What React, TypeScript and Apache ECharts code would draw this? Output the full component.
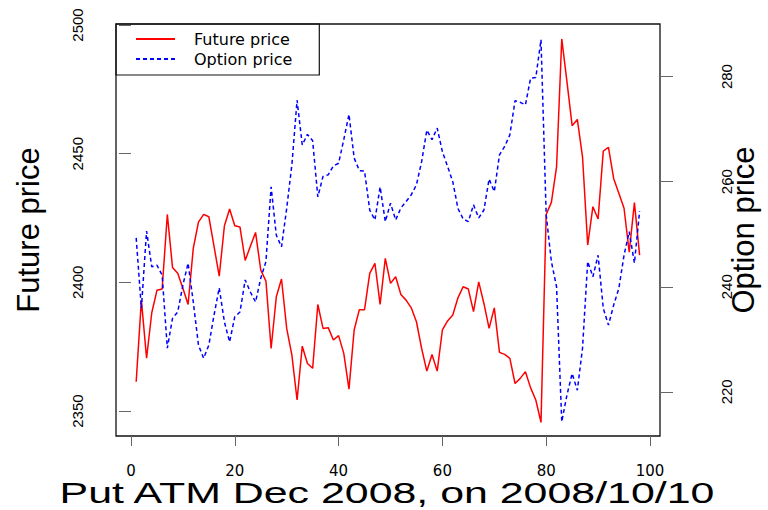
import React, { useEffect, useRef } from 'react';
import * as echarts from 'echarts';

const futurePrice = [
  2361.4, 2393.1, 2370.5, 2388.2, 2396.9, 2397.4, 2426.4, 2405.8, 2403.5, 2397.7,
  2391.4, 2413.2, 2423.4, 2426.4, 2425.5, 2414.0, 2402.4, 2422.0, 2428.5, 2422.0,
  2421.5, 2408.5, 2414.0, 2419.4, 2404.8, 2400.5, 2374.3, 2394.4, 2401.3, 2382.1,
  2371.7, 2354.3, 2375.2, 2368.5, 2366.6, 2391.4, 2382.1, 2382.4, 2377.6, 2379.3,
  2372.4, 2358.5, 2381.5, 2389.4, 2389.4, 2403.5, 2407.4, 2391.4, 2409.3, 2399.6,
  2402.2, 2395.3, 2393.1, 2390.1, 2384.7, 2374.3, 2365.5, 2372.0, 2365.5, 2381.5,
  2385.0, 2387.3, 2394.0, 2398.3, 2397.4, 2388.6, 2400.2, 2391.8, 2382.1, 2390.1,
  2372.8, 2372.0, 2370.5, 2360.7, 2362.7, 2365.3, 2359.0, 2354.3, 2345.6, 2426.4,
  2431.1, 2444.9, 2494.6, 2478.0, 2460.9, 2463.3, 2448.8, 2414.5, 2429.4, 2424.6,
  2451.0, 2452.5, 2440.4, 2434.6, 2428.8, 2411.7, 2431.0, 2410.6,
];

const optionPrice = [
  249.3, 235.9, 250.6, 243.8, 244.1, 242.2, 228.3, 234.0, 235.2, 240.3,
  244.5, 237.1, 228.9, 226.4, 228.9, 234.6, 239.8, 233.3, 229.5, 234.3,
  235.2, 241.3, 239.0, 237.1, 241.6, 244.8, 259.0, 249.8, 247.6, 254.9,
  263.2, 275.5, 267.0, 269.0, 267.8, 257.1, 261.0, 261.3, 263.0, 263.5,
  268.0, 272.8, 264.5, 262.1, 262.0, 254.6, 252.7, 259.0, 252.4, 255.9,
  252.7, 255.0, 256.2, 257.5, 259.4, 263.8, 269.8, 268.0, 270.2, 265.7,
  262.9, 260.0, 254.9, 252.9, 252.4, 255.6, 253.1, 254.6, 260.5, 258.1,
  265.1, 266.7, 268.9, 275.4, 275.1, 274.6, 279.7, 279.8, 287.0, 253.7,
  244.8, 240.0, 214.3, 219.4, 223.5, 220.3, 228.3, 244.8, 241.9, 246.0,
  235.9, 232.7, 236.5, 239.7, 246.0, 250.5, 244.5, 254.4,
];

const days = futurePrice.map((_, i) => i + 1);
const xTicks = [0, 20, 40, 60, 80, 100];
const futureTicks = [2350, 2400, 2450, 2500];
const optionTicks = [220, 240, 260, 280];
const seriesNames = ['Future price', 'Option price'];
const titleText = 'Put ATM Dec 2008, on 2008/10/10';

export default function App() {
  const ref = useRef<HTMLDivElement>(null);

  useEffect(() => {
    if (!ref.current) return;
    const chart = echarts.init(ref.current, null, { renderer: 'svg' });
    const sans = 'Liberation Sans, Arial, Helvetica, sans-serif';
    const tickStyle = { color: '#666', width: 1 };
    const plain = (v: number) => String(v);

    chart.setOption({
      animation: false,
      backgroundColor: '#ffffff',
      grid: {
        left: 116,
        right: 108,
        top: 24,
        bottom: 74,
        show: true,
        borderColor: '#111',
        borderWidth: 1.3,
        containLabel: false,
        outerBoundsMode: 'none',
      },
      legend: {
        orient: 'vertical',
        left: 116,
        top: 24,
        padding: [7, 27, 8, 19],
        itemWidth: 39,
        itemHeight: 14,
        itemGap: 4,
        borderColor: '#111',
        borderWidth: 1.2,
        borderRadius: 0,
        data: seriesNames,
        itemStyle: { opacity: 0 },
        textStyle: {
          fontFamily: 'DejaVu Sans, sans-serif',
          fontSize: 16,
          color: '#000',
          padding: [0, 0, 0, 14],
        },
      },
      xAxis: {
        type: 'value',
        min: -2.89,
        max: 101.93,
        axisLine: { show: false },
        splitLine: { show: false },
        axisTick: { show: true, length: 10, lineStyle: tickStyle, customValues: xTicks },
        axisLabel: {
          customValues: xTicks,
          formatter: plain,
          margin: 27,
          fontFamily: 'DejaVu Sans, sans-serif',
          fontSize: 15,
          color: '#000',
        },
      },
      yAxis: [
        {
          type: 'value',
          position: 'left',
          min: 2340.3,
          max: 2500.4,
          name: seriesNames[0],
          nameLocation: 'middle',
          nameRotate: 90,
          nameGap: 72,
          nameMoveOverlap: false,
          nameTextStyle: { fontFamily: sans, fontSize: 31, color: '#000' },
          axisLine: { show: false },
          splitLine: { show: false },
          axisTick: { show: true, length: 12, lineStyle: tickStyle, customValues: futureTicks },
          axisLabel: {
            customValues: futureTicks,
            formatter: plain,
            rotate: 90,
            align: 'center',
            verticalAlign: 'middle',
            margin: 39,
            fontFamily: sans,
            fontSize: 15,
            color: '#000',
          },
        },
        {
          type: 'value',
          position: 'right',
          min: 211.6,
          max: 290.0,
          name: seriesNames[1],
          nameLocation: 'middle',
          nameRotate: 90,
          nameGap: 68,
          nameMoveOverlap: false,
          nameTextStyle: { fontFamily: sans, fontSize: 31, color: '#000' },
          axisLine: { show: false },
          splitLine: { show: false },
          axisTick: { show: true, length: 13, lineStyle: tickStyle, customValues: optionTicks },
          axisLabel: {
            customValues: optionTicks,
            formatter: plain,
            rotate: 90,
            align: 'center',
            verticalAlign: 'middle',
            margin: 66,
            fontFamily: sans,
            fontSize: 15,
            color: '#000',
          },
        },
      ],
      graphic: [
        {
          type: 'text',
          x: 387,
          y: 492,
          scaleX: 1.43,
          scaleY: 1,
          style: {
            text: titleText,
            font: '30px Liberation Sans, Arial, sans-serif',
            fill: '#000',
            textAlign: 'center',
            textVerticalAlign: 'middle',
          },
        },
      ],
      series: [
        {
          name: seriesNames[0],
          type: 'line',
          yAxisIndex: 0,
          symbol: 'none',
          color: '#ff0000',
          lineStyle: { color: '#ff0000', width: 1.5, type: 'solid' },
          data: days.map((d, i) => [d, futurePrice[i]]),
        },
        {
          name: seriesNames[1],
          type: 'line',
          yAxisIndex: 1,
          symbol: 'none',
          color: '#0000ff',
          lineStyle: { color: '#0000ff', width: 1.5, type: [4, 3] },
          data: days.map((d, i) => [d, optionPrice[i]]),
        },
      ],
    });

    return () => chart.dispose();
  }, []);

  return (
    <div
      ref={ref}
      style={{ position: 'fixed', left: 0, top: 0, width: 768, height: 510, background: '#fff' }}
    />
  );
}
